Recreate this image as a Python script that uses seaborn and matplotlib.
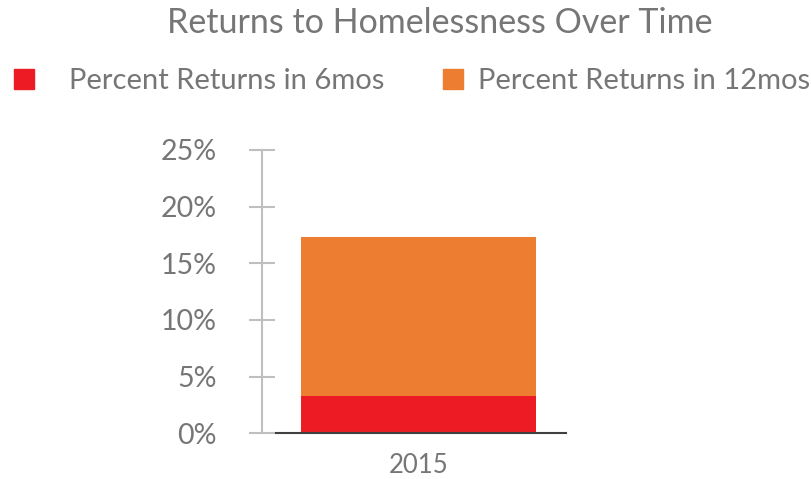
import pandas as pd
import numpy as np
import matplotlib.pyplot as plt
import seaborn as sns
from matplotlib.patches import Patch

years = ["2015"]
returns_6mos = [3.3]
returns_12mos = [17.3]

sns.set_style("white")
plt.rcParams['font.family'] = ['Lato', 'DejaVu Sans']

gray = "#767676"
red = "#ED1C24"
orange = "#ED7D31"

df = pd.DataFrame({"Year": years, "6mos": returns_6mos, "12mos": returns_12mos})

fig = plt.figure(figsize=(8.11, 4.79), dpi=100)
ax = fig.add_axes([262 / 811, 1 - 433.3 / 479, (566 - 262) / 811, (433.3 - 150) / 479])

sns.barplot(data=df, x="Year", y="12mos", color=orange, saturation=1, width=0.8, linewidth=0, ax=ax)
sns.barplot(data=df, x="Year", y="6mos", color=red, saturation=1, width=0.8, linewidth=0, ax=ax)

ax.set_xlim(-0.532, 0.502)
ax.set_ylim(0, 25)
ax.set_yticks([0, 5, 10, 15, 20, 25])
ax.set_yticklabels([f"{v}%" for v in [0, 5, 10, 15, 20, 25]])
ax.set_xlabel("")
ax.set_ylabel("")

for s in ["top", "right"]:
    ax.spines[s].set_visible(False)
ax.spines["left"].set_color("#bfbfbf")
ax.spines["left"].set_linewidth(1.5)
ax.spines["bottom"].set_color("#404040")
ax.spines["bottom"].set_linewidth(1.5)
ax.spines["bottom"].set_bounds(-0.484, 0.502)

ax.tick_params(axis="y", left=True, direction="inout", length=19, width=1.5, color="#bfbfbf",
               labelsize=20.5, labelcolor=gray, pad=23)
ax.tick_params(axis="x", bottom=False, length=0, labelsize=18.5, labelcolor=gray, pad=14)

fig.text(0.542, 1 - 23 / 479, "Returns to Homelessness Over Time", ha="center", va="center",
         fontsize=24.5, color=gray)

# two legend entries with different gaps, as in the original
leg_kw = dict(frameon=False, fontsize=21, labelcolor=gray, handlelength=0.7, handleheight=0.7,
              borderpad=0, borderaxespad=0, loc="center left")
leg1 = fig.legend(handles=[Patch(color=red, label="Percent Returns in 6mos")],
                  bbox_to_anchor=(14 / 811, 1 - 81 / 479), handletextpad=1.2, **leg_kw)
fig.legend(handles=[Patch(color=orange, label="Percent Returns in 12mos")],
           bbox_to_anchor=(443 / 811, 1 - 81 / 479), handletextpad=0.5, **leg_kw)

fig.savefig("out.png", dpi=100)
